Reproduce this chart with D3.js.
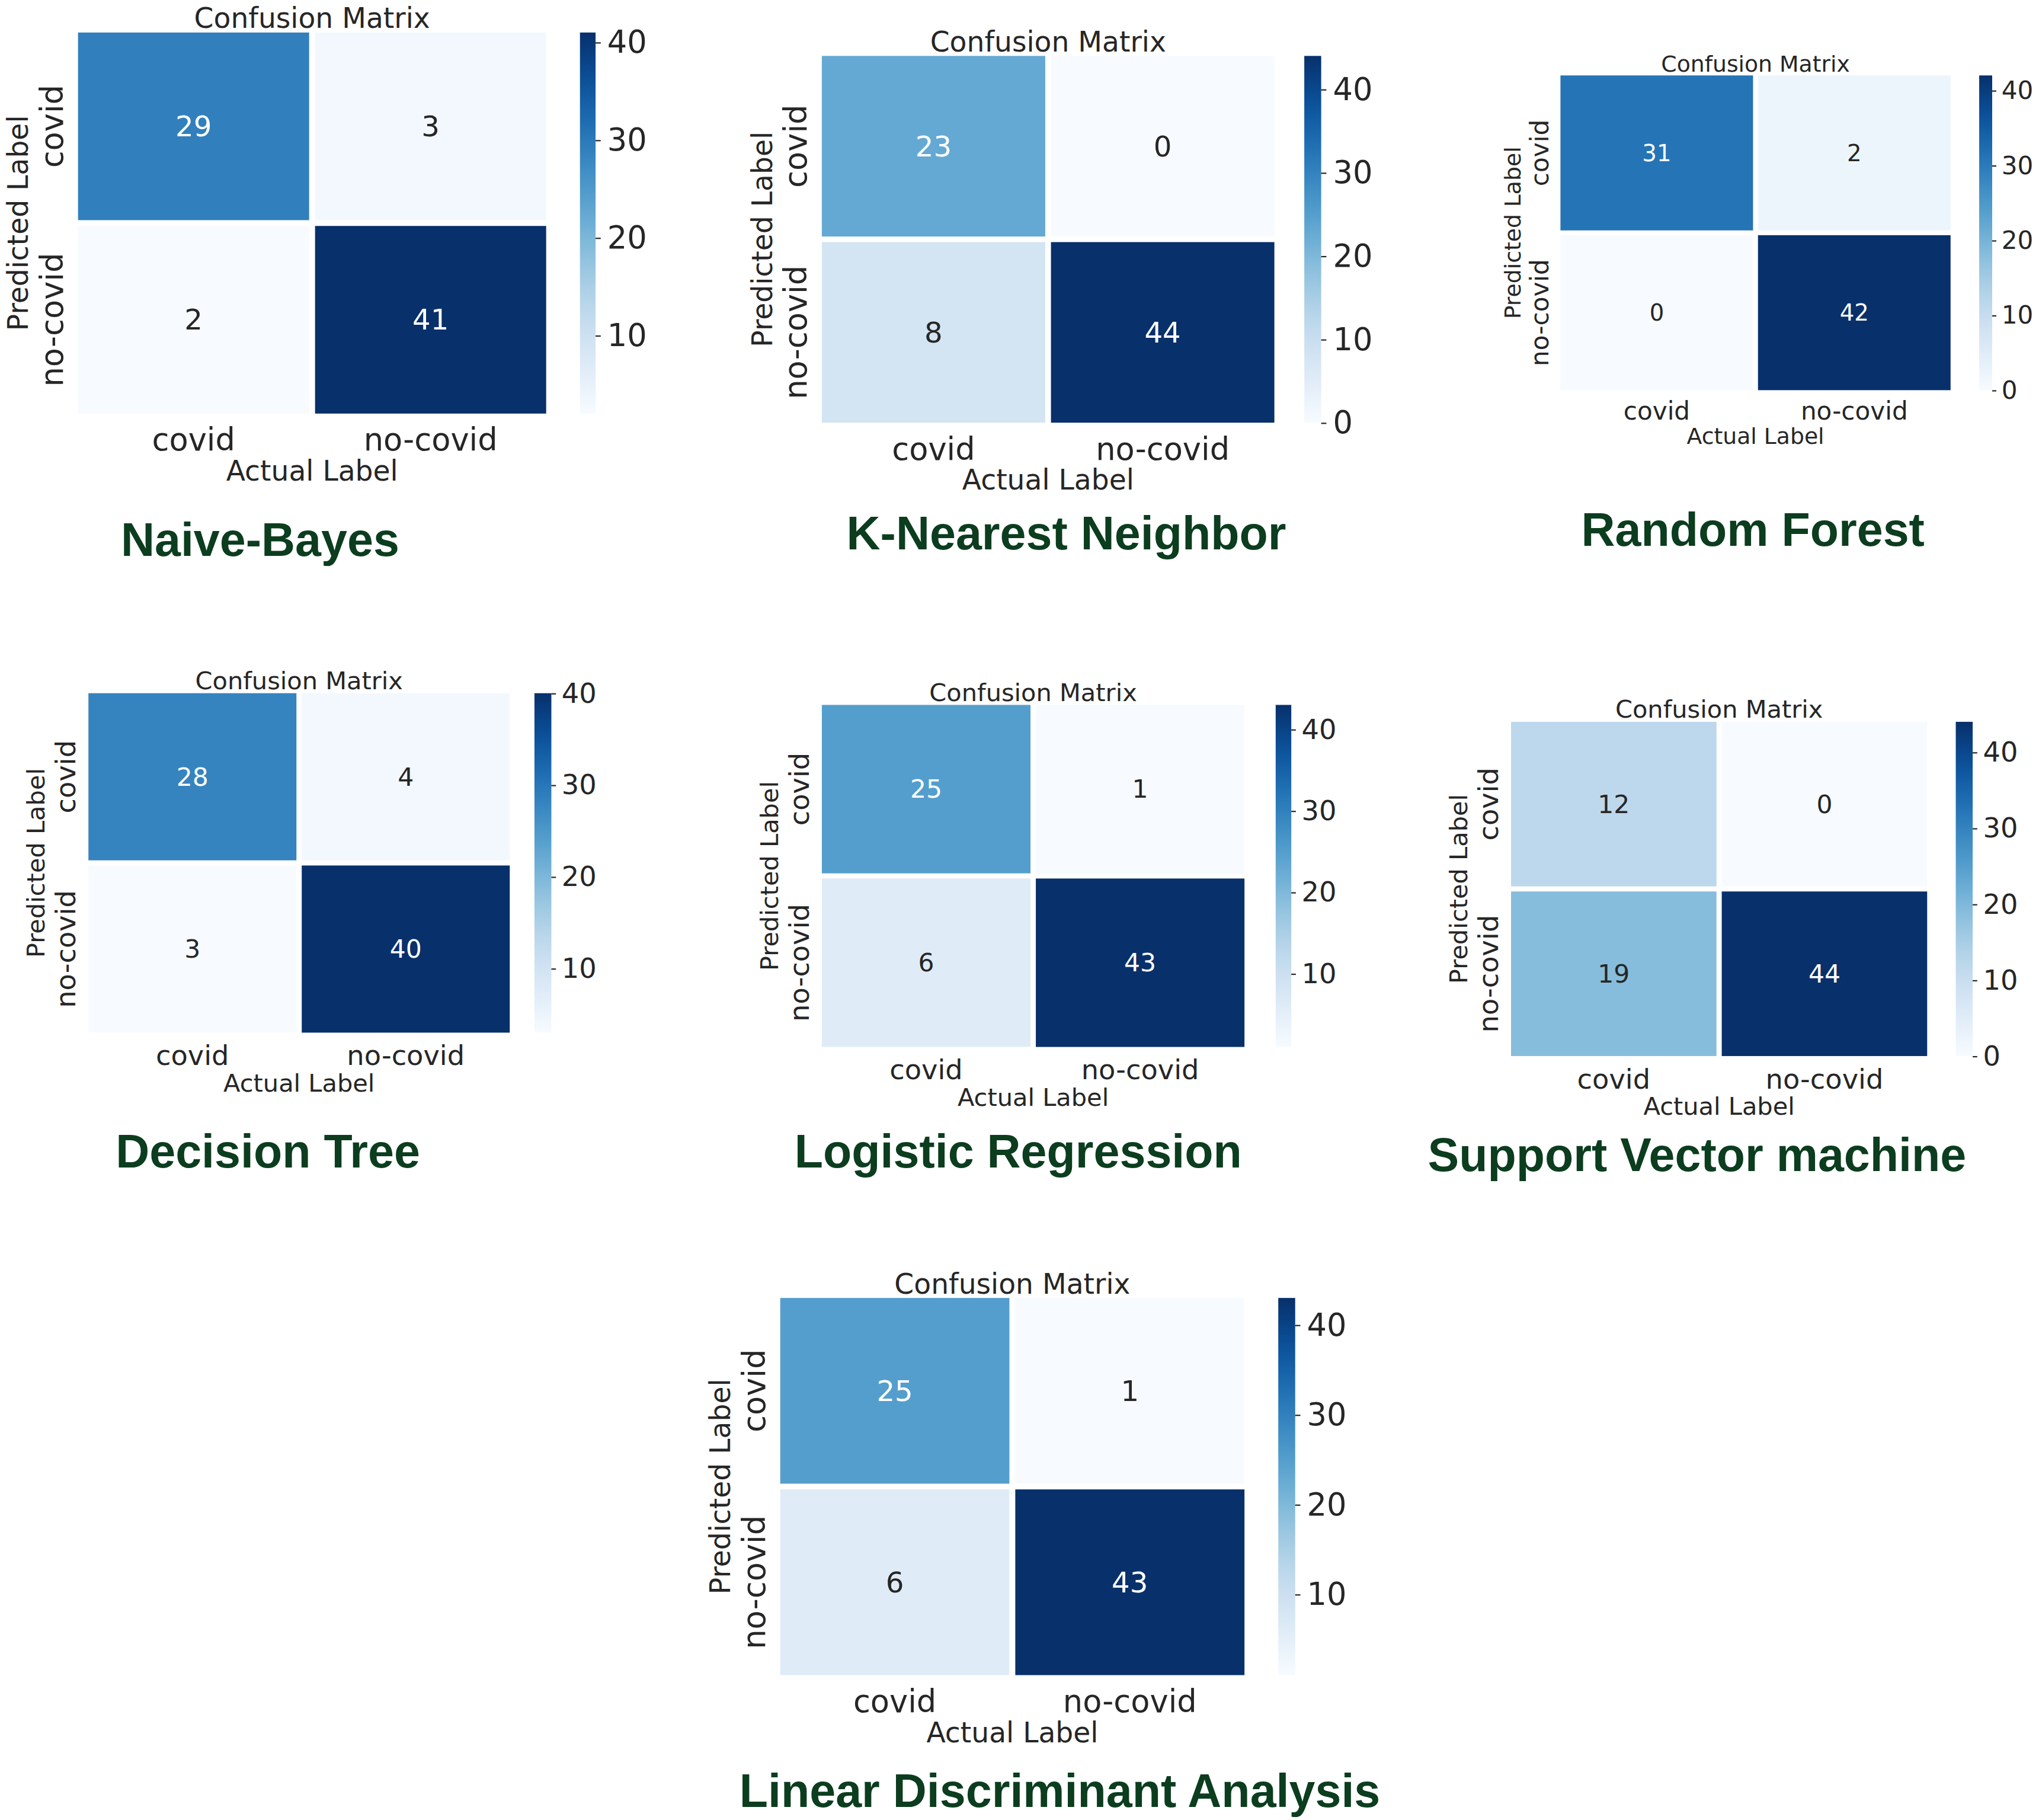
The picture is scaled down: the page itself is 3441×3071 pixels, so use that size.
<!DOCTYPE html>
<html><head><meta charset="utf-8">
<script src="https://cdn.jsdelivr.net/npm/d3@7"></script>
<style>body{margin:0;background:#fff}text{font-family:"DejaVu Sans",sans-serif}</style>
</head><body><svg id="chart" width="3441" height="3071"></svg>
<script>
const classes = ["covid", "no-covid"];
const modelNames = ["Naive-Bayes","K-Nearest Neighbor","Random Forest","Decision Tree","Logistic Regression","Support Vector machine","Linear Discriminant Analysis"];
// [row covid, row no-covid] x [col covid, col no-covid]
const nbValues  = [[29,3],[2,41]];
const knnValues = [[23,0],[8,44]];
const rfValues  = [[31,2],[0,42]];
const dtValues  = [[28,4],[3,40]];
const lrValues  = [[25,1],[6,43]];
const svmValues = [[12,0],[19,44]];
const ldaValues = [[25,1],[6,43]];
const cbTicks = [[10,20,30,40],[0,10,20,30,40],[0,10,20,30,40],[10,20,30,40],[10,20,30,40],[0,10,20,30,40],[10,20,30,40]];

// layout in 1568-wide units, scaled up
const S = 3441/1568;
const layouts = [
  {x0:60,x1:420,y0:25,y1:318,cb:446,cw:12,fs:1.0, title:[200,415]},
  {x0:632,x1:980,y0:43,y1:325,cb:1003,cw:13,fs:1.0, title:[820,410]},
  {x0:1200,x1:1500,y0:58,y1:300,cb:1522,cw:10,fs:0.8, title:[1348,407]},
  {x0:68,x1:392,y0:533,y1:794,cb:411,cw:13,fs:0.88, title:[206,885]},
  {x0:632,x1:957,y0:542,y1:805,cb:981,cw:12,fs:0.88, title:[783,885]},
  {x0:1162,x1:1482,y0:555,y1:812,cb:1504,cw:13,fs:0.88, title:[1305,888]},
  {x0:600,x1:957,y0:998,y1:1288,cb:983,cw:13,fs:1.0, title:[815,1377]}
];
const allValues = [nbValues,knnValues,rfValues,dtValues,lrValues,svmValues,ldaValues];

const svg = d3.select("#chart");
const root = svg.append("g").attr("transform", `scale(${S})`);
const defs = svg.append("defs");
const lg = defs.append("linearGradient").attr("id","blues").attr("x1",0).attr("x2",0).attr("y1",1).attr("y2",0);
d3.range(0,1.01,0.05).forEach(t => lg.append("stop").attr("offset", t).attr("stop-color", d3.interpolateBlues(t)));

allValues.forEach((vals, i) => {
  const L = layouts[i], f = L.fs;
  const g = root.append("g");
  const flat = vals.flat();
  const vmin = d3.min(flat), vmax = d3.max(flat);
  const color = d3.scaleSequential(d3.interpolateBlues).domain([vmin, vmax]);
  const x = d3.scaleBand().domain(classes).range([L.x0, L.x1]).paddingInner(0.025);
  const y = d3.scaleBand().domain(classes).range([L.y0, L.y1]).paddingInner(0.03);
  const cells = [];
  vals.forEach((row, r) => row.forEach((v, c) => cells.push({r: classes[r], c: classes[c], v})));
  g.selectAll("rect.cell").data(cells).join("rect").attr("class","cell")
    .attr("x", d => x(d.c)).attr("y", d => y(d.r))
    .attr("width", x.bandwidth()).attr("height", y.bandwidth())
    .attr("fill", d => color(d.v));
  g.selectAll("text.annot").data(cells).join("text").attr("class","annot")
    .attr("x", d => x(d.c) + x.bandwidth()/2).attr("y", d => y(d.r) + y.bandwidth()/2)
    .attr("dy","0.35em").attr("text-anchor","middle").attr("font-size", 22*f)
    .attr("fill", d => (d.v - vmin)/(vmax - vmin) > 0.5 ? "#fff" : "#262626").text(d => d.v);
  g.selectAll("text.xt").data(classes).join("text").attr("class","xt")
    .attr("x", d => x(d) + x.bandwidth()/2).attr("y", L.y1 + 20*f)
    .attr("dy","0.35em").attr("text-anchor","middle").attr("font-size", 24*f).attr("fill","#262626").text(d => d);
  g.append("text").attr("x",(L.x0+L.x1)/2).attr("y", L.y1 + 44*f).attr("dy","0.35em")
    .attr("text-anchor","middle").attr("font-size", 21.5*f).attr("fill","#262626").text("Actual Label");
  g.selectAll("text.yt").data(classes).join("text").attr("class","yt")
    .attr("transform", d => `translate(${L.x0 - 20*f},${y(d) + y.bandwidth()/2}) rotate(-90)`)
    .attr("dy","0.35em").attr("text-anchor","middle").attr("font-size", 24*f).attr("fill","#262626").text(d => d);
  g.append("text").attr("transform", `translate(${L.x0 - 46*f},${(L.y0+L.y1)/2}) rotate(-90)`)
    .attr("dy","0.35em").attr("text-anchor","middle").attr("font-size", 21.5*f).attr("fill","#262626").text("Predicted Label");
  g.append("text").attr("x",(L.x0+L.x1)/2).attr("y", L.y0 - 11*f).attr("dy","0.35em")
    .attr("text-anchor","middle").attr("font-size", 21.5*f).attr("fill","#262626").text("Confusion Matrix");
  const cy = d3.scaleLinear().domain([vmin, vmax]).range([L.y1, L.y0]);
  g.append("rect").attr("x", L.cb).attr("y", L.y0).attr("width", L.cw).attr("height", L.y1 - L.y0).attr("fill","url(#blues)");
  const ax = g.append("g").attr("transform", `translate(${L.cb + L.cw},0)`)
    .call(d3.axisRight(cy).tickValues(cbTicks[i].filter(t => t >= vmin && t <= vmax)).tickSize(4*f).tickPadding(5*f));
  ax.select(".domain").remove();
  ax.selectAll("text").attr("font-size", 24*f).attr("fill","#262626").style("font-family","DejaVu Sans");
  ax.selectAll("line").attr("stroke","#262626");
  root.append("text").attr("x", L.title[0]).attr("y", L.title[1]).attr("dy","0.35em")
    .attr("text-anchor","middle").attr("font-size", 36).attr("font-weight","bold")
    .attr("fill","#0b3d1e").style("font-family","Liberation Sans, Arial").text(modelNames[i]);
});
</script></body></html>
